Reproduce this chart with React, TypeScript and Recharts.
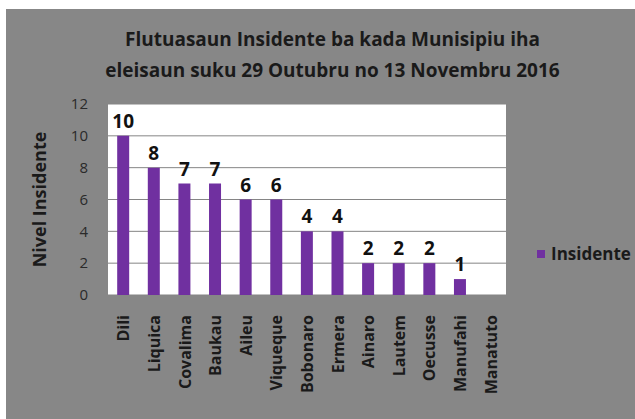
import React from 'react';
import { BarChart, Bar, XAxis, YAxis, CartesianGrid, LabelList } from 'recharts';

const municipalities = ['Dili', 'Liquica', 'Covalima', 'Baukau', 'Aileu', 'Viqueque', 'Bobonaro', 'Ermera', 'Ainaro', 'Lautem', 'Oecusse', 'Manufahi', 'Manatuto'];
const incidents = [10, 8, 7, 7, 6, 6, 4, 4, 2, 2, 2, 1, null];
const yTicks = [0, 2, 4, 6, 8, 10, 12];

const data = municipalities.map((name, i) => ({ name, Insidente: incidents[i] }));

const FONT = "'Open Sans', 'DejaVu Sans', sans-serif";
const BAR_COLOR = '#7030a0';

// rotated category labels, top of text just below the plot
const XTick = (props: any) => {
  const { x, y, payload } = props;
  return (
    <text
      x={0}
      y={0}
      transform={`translate(${x},${y + 12}) rotate(-90)`}
      textAnchor="end"
      dominantBaseline="central"
      fontFamily={FONT}
      fontWeight={700}
      fontSize={16}
      fill="#1a1a1a"
    >
      {payload.value}
    </text>
  );
};

const App = () => (
  <div style={{ position: 'absolute', left: 0, top: 0, width: 635, height: 419, background: '#fff' }}>
    <div style={{ position: 'absolute', left: 6, top: 9, width: 629, height: 410, background: '#878787' }} />
    <div
      style={{
        position: 'absolute',
        left: 0,
        top: 24,
        width: 665,
        textAlign: 'center',
        fontFamily: FONT,
        fontWeight: 700,
        fontSize: 19,
        lineHeight: '31px',
        color: '#1a1a1a',
      }}
    >
      Flutuasaun Insidente ba kada Munisipiu iha
      <br />
      eleisaun suku 29 Outubru no 13 Novembru 2016
    </div>
    <div
      style={{
        position: 'absolute',
        left: 537,
        top: 242,
        display: 'flex',
        alignItems: 'center',
        fontFamily: FONT,
        fontWeight: 700,
        fontSize: 17,
        color: '#1a1a1a',
      }}
    >
      <span style={{ width: 8, height: 8, background: BAR_COLOR, marginRight: 6, display: 'inline-block' }} />
      Insidente
    </div>
    <div style={{ position: 'absolute', left: 0, top: 0 }}>
      <BarChart
        width={635}
        height={419}
        data={data}
        margin={{ top: 104, right: 129, left: 68, bottom: 24 }}
        barCategoryGap="30%"
      >
        <CartesianGrid vertical={false} stroke="#858585" fill="#ffffff" />
        <XAxis
          dataKey="name"
          interval={0}
          height={100}
          tick={<XTick />}
          axisLine={false}
          tickLine={false}
        />
        <YAxis
          domain={[0, 12]}
          ticks={yTicks}
          width={40}
          axisLine={false}
          tickLine={false}
          tickMargin={14}
          tick={{ fontFamily: FONT, fontSize: 15, fill: '#2a2a2a' }}
          label={{
            value: 'Nivel Insidente',
            angle: -90,
            position: 'center',
            dx: -48,
            style: { fontFamily: FONT, fontWeight: 700, fontSize: 18, fill: '#1a1a1a' },
          }}
        />
        <Bar dataKey="Insidente" fill={BAR_COLOR} isAnimationActive={false}>
          <LabelList
            dataKey="Insidente"
            position="top"
            offset={8}
            style={{ fontFamily: FONT, fontWeight: 700, fontSize: 19, fill: '#111' }}
          />
        </Bar>
      </BarChart>
    </div>
  </div>
);

export default App;
